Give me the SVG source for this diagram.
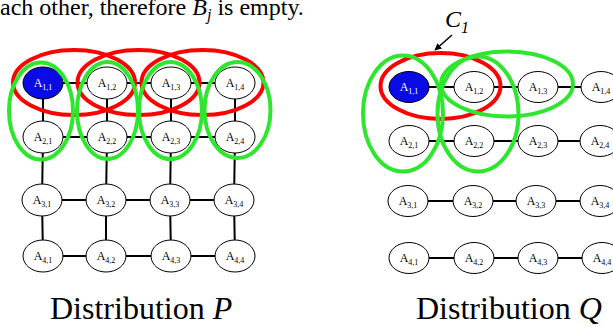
<svg xmlns="http://www.w3.org/2000/svg" width="613" height="327" viewBox="0 0 613 327">
<defs>
<style>
.nd{fill:#fff;stroke:#000;stroke-width:1}
.blue{fill:#0a0ae6;stroke:#000;stroke-width:1}
.lb{font-family:"Liberation Serif",serif;font-size:12px;fill:#000;text-anchor:middle}
.lbw{font-family:"Liberation Serif",serif;font-size:12px;fill:#fff;text-anchor:middle}
.sub{font-size:8px}
.ed{stroke:#000;stroke-width:2;fill:none}
.red{fill:none;stroke:#f00;stroke-width:4}
.grn{fill:none;stroke:#2ee62e;stroke-width:4}
.big{font-family:"Liberation Serif",serif;font-size:32px;fill:#000}
</style>
<marker id="ah" viewBox="0 0 10 10" refX="9" refY="5" markerWidth="7" markerHeight="7" orient="auto" markerUnits="userSpaceOnUse">
<path d="M0,0 L10,5 L0,10 z" fill="#000"/>
</marker>
</defs>
<rect width="613" height="327" fill="#fff"/>
<text x="0" y="15" font-family="Liberation Serif,serif" font-size="24">ach other, therefore <tspan font-style="italic">B</tspan><tspan font-style="italic" font-size="16" dy="5">j</tspan><tspan dy="-5"> is empty.</tspan></text>

<g id="connectors">
<!-- P horizontal -->
<path class="ed" d="M43,83 H235 M43,137 H235 M42,200 H234 M43,256 H235"/>
<!-- P vertical -->
<path class="ed" d="M43,83 L43,137 M107,83 L107,137 M171,83 L171,137 M235,83 L235,137"/>
<path class="ed" d="M43,137 L42,200 M107,137 L106,200 M171,137 L170,200 M235,137 L234,200"/>
<path class="ed" d="M42,200 L43,256 M106,200 L106,256 M170,200 L171,256 M234,200 L235,256"/>
<!-- Q horizontal -->
<path class="ed" d="M409,87 H601 M409,141 H600 M408,201 H600 M409,258 H602"/>
<line x1="452" y1="35" x2="435" y2="50" stroke="#000" stroke-width="1.5" marker-end="url(#ah)"/>
</g>

<g id="P11"><ellipse class="blue" cx="43" cy="83" rx="20" ry="16"/><text class="lbw" x="43" y="87">A<tspan class="sub" dy="3">1,1</tspan></text></g>
<g id="P12"><ellipse class="nd" cx="107" cy="83" rx="20" ry="16"/><text class="lb" x="107" y="87">A<tspan class="sub" dy="3">1,2</tspan></text></g>
<g id="P13"><ellipse class="nd" cx="171" cy="83" rx="20" ry="16"/><text class="lb" x="171" y="87">A<tspan class="sub" dy="3">1,3</tspan></text></g>
<g id="P14"><ellipse class="nd" cx="235" cy="83" rx="20" ry="16"/><text class="lb" x="235" y="87">A<tspan class="sub" dy="3">1,4</tspan></text></g>
<g id="P21"><ellipse class="nd" cx="43" cy="137" rx="20" ry="16"/><text class="lb" x="43" y="141">A<tspan class="sub" dy="3">2,1</tspan></text></g>
<g id="P22"><ellipse class="nd" cx="107" cy="137" rx="20" ry="16"/><text class="lb" x="107" y="141">A<tspan class="sub" dy="3">2,2</tspan></text></g>
<g id="P23"><ellipse class="nd" cx="171" cy="137" rx="20" ry="16"/><text class="lb" x="171" y="141">A<tspan class="sub" dy="3">2,3</tspan></text></g>
<g id="P24"><ellipse class="nd" cx="235" cy="137" rx="20" ry="16"/><text class="lb" x="235" y="141">A<tspan class="sub" dy="3">2,4</tspan></text></g>
<g id="P31"><ellipse class="nd" cx="42" cy="200" rx="20" ry="16"/><text class="lb" x="42" y="204">A<tspan class="sub" dy="3">3,1</tspan></text></g>
<g id="P32"><ellipse class="nd" cx="106" cy="200" rx="20" ry="16"/><text class="lb" x="106" y="204">A<tspan class="sub" dy="3">3,2</tspan></text></g>
<g id="P33"><ellipse class="nd" cx="170" cy="200" rx="20" ry="16"/><text class="lb" x="170" y="204">A<tspan class="sub" dy="3">3,3</tspan></text></g>
<g id="P34"><ellipse class="nd" cx="234" cy="200" rx="20" ry="16"/><text class="lb" x="234" y="204">A<tspan class="sub" dy="3">3,4</tspan></text></g>
<g id="P41"><ellipse class="nd" cx="43" cy="256" rx="20" ry="16"/><text class="lb" x="43" y="260">A<tspan class="sub" dy="3">4,1</tspan></text></g>
<g id="P42"><ellipse class="nd" cx="106" cy="256" rx="20" ry="16"/><text class="lb" x="106" y="260">A<tspan class="sub" dy="3">4,2</tspan></text></g>
<g id="P43"><ellipse class="nd" cx="171" cy="256" rx="20" ry="16"/><text class="lb" x="171" y="260">A<tspan class="sub" dy="3">4,3</tspan></text></g>
<g id="P44"><ellipse class="nd" cx="235" cy="256" rx="20" ry="16"/><text class="lb" x="235" y="260">A<tspan class="sub" dy="3">4,4</tspan></text></g>

<g id="Q11"><ellipse class="blue" cx="409" cy="87" rx="20" ry="15.5"/><text class="lbw" x="409" y="91">A<tspan class="sub" dy="3">1,1</tspan></text></g>
<g id="Q12"><ellipse class="nd" cx="474" cy="87" rx="20" ry="15.5"/><text class="lb" x="474" y="91">A<tspan class="sub" dy="3">1,2</tspan></text></g>
<g id="Q13"><ellipse class="nd" cx="538" cy="87" rx="20" ry="15.5"/><text class="lb" x="538" y="91">A<tspan class="sub" dy="3">1,3</tspan></text></g>
<g id="Q14"><ellipse class="nd" cx="601" cy="87" rx="20" ry="15.5"/><text class="lb" x="601" y="91">A<tspan class="sub" dy="3">1,4</tspan></text></g>
<g id="Q21"><ellipse class="nd" cx="409" cy="141" rx="20" ry="15.5"/><text class="lb" x="409" y="145">A<tspan class="sub" dy="3">2,1</tspan></text></g>
<g id="Q22"><ellipse class="nd" cx="474" cy="141" rx="20" ry="15.5"/><text class="lb" x="474" y="145">A<tspan class="sub" dy="3">2,2</tspan></text></g>
<g id="Q23"><ellipse class="nd" cx="538" cy="141" rx="20" ry="15.5"/><text class="lb" x="538" y="145">A<tspan class="sub" dy="3">2,3</tspan></text></g>
<g id="Q24"><ellipse class="nd" cx="600" cy="141" rx="20" ry="15.5"/><text class="lb" x="600" y="145">A<tspan class="sub" dy="3">2,4</tspan></text></g>
<g id="Q31"><ellipse class="nd" cx="408" cy="201" rx="20" ry="15.5"/><text class="lb" x="408" y="205">A<tspan class="sub" dy="3">3,1</tspan></text></g>
<g id="Q32"><ellipse class="nd" cx="473" cy="201" rx="20" ry="15.5"/><text class="lb" x="473" y="205">A<tspan class="sub" dy="3">3,2</tspan></text></g>
<g id="Q33"><ellipse class="nd" cx="536" cy="201" rx="20" ry="15.5"/><text class="lb" x="536" y="205">A<tspan class="sub" dy="3">3,3</tspan></text></g>
<g id="Q34"><ellipse class="nd" cx="600" cy="201" rx="20" ry="15.5"/><text class="lb" x="600" y="205">A<tspan class="sub" dy="3">3,4</tspan></text></g>
<g id="Q41"><ellipse class="nd" cx="409" cy="258" rx="20" ry="15.5"/><text class="lb" x="409" y="262">A<tspan class="sub" dy="3">4,1</tspan></text></g>
<g id="Q42"><ellipse class="nd" cx="474" cy="258" rx="20" ry="15.5"/><text class="lb" x="474" y="262">A<tspan class="sub" dy="3">4,2</tspan></text></g>
<g id="Q43"><ellipse class="nd" cx="538" cy="258" rx="20" ry="15.5"/><text class="lb" x="538" y="262">A<tspan class="sub" dy="3">4,3</tspan></text></g>
<g id="Q44"><ellipse class="nd" cx="602" cy="258" rx="20" ry="15.5"/><text class="lb" x="602" y="262">A<tspan class="sub" dy="3">4,4</tspan></text></g>

<g id="cliquesP">
<ellipse class="red" cx="74" cy="82.5" rx="61" ry="32.5"/>
<ellipse class="red" cx="138.5" cy="82.5" rx="61" ry="32.5"/>
<ellipse class="red" cx="202.5" cy="82.5" rx="61" ry="32.5"/>
<ellipse class="grn" cx="41" cy="111" rx="32" ry="48.5"/>
<ellipse class="grn" cx="107.5" cy="110.5" rx="30.5" ry="48.5"/>
<ellipse class="grn" cx="170.5" cy="110.5" rx="31.5" ry="48.5"/>
<ellipse class="grn" cx="237.5" cy="110" rx="33" ry="48"/>
</g>
<g id="cliquesQ">
<ellipse class="red" cx="440.5" cy="86" rx="60" ry="33"/>
<ellipse class="grn" cx="403" cy="113.5" rx="40" ry="58"/>
<ellipse class="grn" cx="478" cy="114" rx="40.5" ry="57.5"/>
<ellipse class="grn" cx="507" cy="84" rx="66" ry="32.5"/>
</g>

<g id="C1label"><text x="445" y="27" font-family="Liberation Serif,serif" font-size="24" font-style="italic">C<tspan font-size="16" dy="6">1</tspan></text></g>
<text class="big" x="50" y="319">Distribution <tspan font-style="italic">P</tspan></text>
<text class="big" x="416" y="319">Distribution <tspan font-style="italic">Q</tspan></text>
</svg>
